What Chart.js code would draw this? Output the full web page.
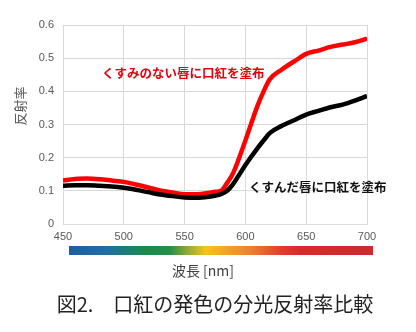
<!DOCTYPE html>
<html lang="ja">
<head>
<meta charset="utf-8">
<title>口紅の発色の分光反射率比較</title>
<script src="https://cdn.jsdelivr.net/npm/chart.js@4/dist/chart.umd.min.js"></script>
<style>
  html, body { margin: 0; padding: 0; background: #fff; }
  #wrap { width: 416px; height: 332px; position: relative; }
</style>
</head>
<body>
<div id="wrap"><canvas id="chart" width="416" height="332"></canvas></div>
<script>
  "use strict";

  const JP = "'Noto Sans CJK JP', 'Noto Sans', sans-serif";

  // wavelength [nm]
  const wavelengths = [450, 460, 470, 480, 490, 500, 510, 520, 530, 540, 550, 560, 570, 575,
    580, 585, 590, 600, 610, 615, 620, 630, 640, 650, 660, 670, 680, 690, 700];
  // reflectance, clear lips + lipstick
  const clearLips = [0.131, 0.136, 0.137, 0.135, 0.131, 0.127, 0.119, 0.110, 0.101, 0.095, 0.090, 0.090, 0.094, 0.097,
    0.100, 0.124, 0.154, 0.252, 0.357, 0.400, 0.436, 0.466, 0.490, 0.513, 0.523, 0.534, 0.541, 0.548, 0.559];
  // reflectance, dull lips + lipstick
  const dullLips = [0.115, 0.117, 0.117, 0.115, 0.113, 0.109, 0.103, 0.096, 0.089, 0.084, 0.080, 0.079, 0.082, 0.085,
    0.090, 0.100, 0.121, 0.178, 0.229, 0.252, 0.274, 0.296, 0.313, 0.330, 0.341, 0.352, 0.360, 0.372, 0.386];

  const seriesNames = ["くすみのない唇に口紅を塗布", "くすんだ唇に口紅を塗布"];
  const xTicks = [450, 500, 550, 600, 650, 700];
  const yTicks = [0, 0.1, 0.2, 0.3, 0.4, 0.5, 0.6];
  // where the in-plot labels sit, in data units [nm, reflectance]
  const labelAt = [[482, 0.454], [603, 0.11]];

  const yTitle = "反射率";
  const xTitle = "波長 [nm]";
  const chartTitle = "図2.\u3000口紅の発色の分光反射率比較";

  const toPoints = (ys) => wavelengths.map((x, i) => ({ x, y: ys[i] }));

  // spectrum bar, series labels, axis titles, figure caption
  const decor = {
    id: "decor",
    afterDraw(chart) {
      const { ctx, chartArea, scales } = chart;
      const x = scales.x, y = scales.y;

      // spectrum strip under the x ticks
      const x0 = x.getPixelForValue(450) + 6;
      const x1 = x.getPixelForValue(700) + 6;
      const top = chartArea.bottom + 22;
      const g = ctx.createLinearGradient(x0, 0, x1, 0);
      g.addColorStop(0.00, "#1f5d9f");
      g.addColorStop(0.12, "#1f6ea6");
      g.addColorStop(0.25, "#1a8a4c");
      g.addColorStop(0.33, "#248f48");
      g.addColorStop(0.40, "#a2ae30");
      g.addColorStop(0.45, "#f6c415");
      g.addColorStop(0.52, "#f2a323");
      g.addColorStop(0.60, "#ee7f30");
      g.addColorStop(0.70, "#e33b2c");
      g.addColorStop(0.76, "#d92a2a");
      g.addColorStop(1.00, "#cc2a2e");
      ctx.save();
      ctx.fillStyle = g;
      ctx.fillRect(x0, top, x1 - x0, 9);

      // series labels inside the plot
      ctx.font = "bold 12.5px " + JP;
      ctx.textBaseline = "middle";
      ctx.textAlign = "left";
      ctx.fillStyle = "#e3000f";
      ctx.fillText(seriesNames[0], x.getPixelForValue(labelAt[0][0]), y.getPixelForValue(labelAt[0][1]));
      ctx.fillStyle = "#111111";
      ctx.fillText(seriesNames[1], x.getPixelForValue(labelAt[1][0]), y.getPixelForValue(labelAt[1][1]));

      // x axis title
      ctx.textAlign = "center";
      ctx.font = "14px " + JP;
      ctx.fillStyle = "#404040";
      ctx.fillText(xTitle, 203, 271);

      // figure caption
      ctx.font = "20px " + JP;
      ctx.fillStyle = "#222222";
      ctx.fillText(chartTitle, 215, 304);

      // y axis title, rotated
      ctx.font = "13px " + JP;
      ctx.fillStyle = "#595959";
      ctx.translate(20, 106);
      ctx.rotate(-Math.PI / 2);
      ctx.fillText(yTitle, 0, 0);
      ctx.restore();
    },
  };

  new Chart(document.getElementById("chart").getContext("2d"), {
    type: "line",
    data: {
      datasets: [
        {
          label: seriesNames[1],
          data: toPoints(dullLips),
          borderColor: "#000000",
          borderWidth: 4.5,
          pointRadius: 0,
          cubicInterpolationMode: "monotone",
        },
        {
          label: seriesNames[0],
          data: toPoints(clearLips),
          borderColor: "#ff0000",
          borderWidth: 4.5,
          pointRadius: 0,
          cubicInterpolationMode: "monotone",
        },
      ],
    },
    options: {
      responsive: false,
      animation: false,
      layout: { padding: { left: 0, right: 49, top: 25, bottom: 0 } },
      scales: {
        x: {
          type: "linear",
          min: 450,
          max: 700,
          afterBuildTicks: (s) => { s.ticks = xTicks.map((v) => ({ value: v })); },
          afterFit: (s) => { s.height = 108; },
          ticks: {
            color: "#595959",
            font: { family: "'Liberation Sans', Arial, sans-serif", size: 11 },
            padding: 6,
            maxRotation: 0,
          },
          grid: { color: "#d9d9d9", drawTicks: false },
          border: { color: "#d9d9d9" },
        },
        y: {
          min: 0,
          max: 0.6,
          afterBuildTicks: (s) => { s.ticks = yTicks.map((v) => ({ value: v })); },
          afterFit: (s) => { s.width = 63; },
          ticks: {
            color: "#595959",
            font: { family: "'Liberation Sans', Arial, sans-serif", size: 11 },
            padding: 9,
            callback: (v) => String(Math.round(v * 10) / 10),
          },
          grid: { color: "#d9d9d9", drawTicks: false },
          border: { color: "#d9d9d9" },
        },
      },
      plugins: {
        legend: { display: false },
        tooltip: { enabled: false },
      },
    },
    plugins: [decor],
  });
</script>
</body>
</html>
